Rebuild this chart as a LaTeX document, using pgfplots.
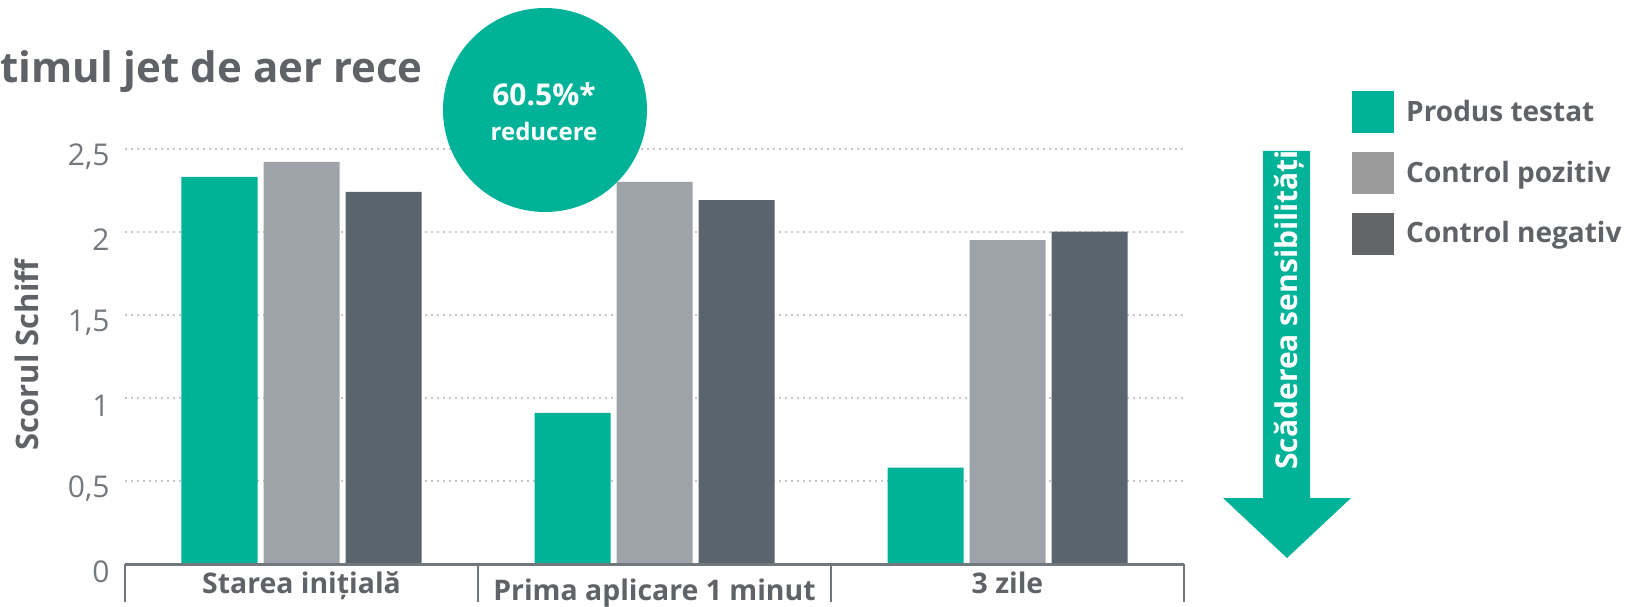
\documentclass[border=0pt]{standalone}
\usepackage{fontspec}
\setmainfont{Open Sans}
\usepackage{pgfplots}
\pgfplotsset{compat=1.18}
\definecolor{cGreen}{HTML}{00B398}
\definecolor{cGray}{HTML}{9DA3A8}
\definecolor{cDark}{HTML}{59646C}
\definecolor{cLegGray}{HTML}{9B9B9B}
\definecolor{cLegDark}{HTML}{636569}
\definecolor{cText}{HTML}{5F6368}
\definecolor{cTick}{HTML}{73787D}
\definecolor{cGrid}{HTML}{C4C7CA}
\definecolor{cAxis}{HTML}{70777D}
\begin{document}
\begin{tikzpicture}[x=0.5pt,y=0.5pt]
\begin{axis}[
  scale only axis, width=529.5pt, height=216pt,
  xmin=-0.5, xmax=2.5, ymin=0, ymax=2.6,
  axis line style={draw=none},
  major tick length=0pt,
  xtick={0,1,2},
  xticklabels={Starea inițială, \raisebox{-3.5pt}{Prima aplicare 1 minut}, 3 zile},
  xticklabel style={anchor=base, inner sep=0pt, yshift=-14.5pt, font=\fontsize{14.2}{16}\selectfont\bfseries, text=cText},
  ytick={0,0.5,1,1.5,2,2.5},
  yticklabels={0,{0,5},1,{1,5},2,{2,5}},
  yticklabel style={anchor=east, inner sep=0pt, xshift=-7.5pt, yshift=-4pt, font=\fontsize{15}{17}\selectfont, text=cTick},
  ymajorgrids, grid style={draw=cGrid, line width=0.9pt, dash pattern=on 0.9pt off 2.1pt},
  ylabel={Scorul Schiff},
  ylabel style={at={(axis description cs:-0.0925,0.4838)}, anchor=center, font=\fontsize{15.5}{17}\selectfont\bfseries, text=cText},
  clip=false,
  legend style={at={(axis description cs:1.1586,1.095)}, anchor=north west, draw=none, fill=none, inner sep=0pt, row sep=9.5pt,
    font=\fontsize{14}{17}\selectfont\bfseries, text=cText,
    nodes={inner sep=0pt, anchor=west},
    /tikz/every odd column/.append style={column sep=6pt}},
  legend cell align=left,
]
\addplot[ybar, bar width=38pt, bar shift=-41pt, fill=cGreen, draw=none, forget plot] coordinates {(0,2.33) (1,0.91) (2,0.58)};
\addplot[ybar, bar width=38pt, bar shift=0pt, fill=cGray, draw=none, forget plot] coordinates {(0,2.42) (1,2.30) (2,1.95)};
\addplot[ybar, bar width=38pt, bar shift=41pt, fill=cDark, draw=none, forget plot] coordinates {(0,2.24) (1,2.19) (2,2.00)};
\addlegendimage{legend image code/.code={\fill[cGreen] (0pt,-10.25pt) rectangle (20.5pt,10.25pt);}}
\addlegendentry{Produs testat}
\addlegendimage{legend image code/.code={\fill[cLegGray] (0pt,-10.25pt) rectangle (20.5pt,10.25pt);}}
\addlegendentry{Control pozitiv}
\addlegendimage{legend image code/.code={\fill[cLegDark] (0pt,-10.25pt) rectangle (20.5pt,10.25pt);}}
\addlegendentry{Control negativ}
\draw[cAxis, line width=1.5pt] (axis cs:-0.5,0) -- (axis cs:2.5,0);
\draw[cAxis, line width=1pt] (axis cs:-0.5,0) -- (axis cs:-0.5,-0.23);
\draw[cAxis, line width=1pt] (axis cs:0.5,0) -- (axis cs:0.5,-0.23);
\draw[cAxis, line width=1pt] (axis cs:1.5,0) -- (axis cs:1.5,-0.23);
\draw[cAxis, line width=1pt] (axis cs:2.5,0) -- (axis cs:2.5,-0.23);
\coordinate (O) at (axis cs:-0.5,0);
\end{axis}
\pgfresetboundingbox
\path[use as bounding box] ([xshift=-62.5pt,yshift=-21pt]O) rectangle ++(1628,606);
\begin{scope}[shift={(O)}, xshift=-62.5pt, yshift=-21pt]
% title
\node[anchor=base west, inner sep=0pt, text=cText, font=\fontsize{21}{24}\selectfont\bfseries] at (0,523) {timul jet de aer rece};
% circle badge
\fill[cGreen] (545,496) circle (51pt);
\node[text=white, inner sep=0pt, font=\fontsize{15}{17}\selectfont\bfseries, anchor=base] at (544,500) {60.5\%*};
\node[text=white, inner sep=0pt, font=\fontsize{12}{14}\selectfont\bfseries, anchor=base] at (544,465) {reducere};
% arrow
\fill[cGreen] (1263,455) -- (1310,455) -- (1310,108) -- (1351,108) -- (1287,48) -- (1223,108) -- (1263,108) -- cycle;
\begin{scope}
\clip (1263,108) rectangle (1310,455);
\node[rotate=90, anchor=base west, inner sep=0pt, text=white, font=\fontsize{15}{18}\selectfont\bfseries] at (1297,136) {Scăderea sensibilității};
\end{scope}
\end{scope}
\end{tikzpicture}
\end{document}
